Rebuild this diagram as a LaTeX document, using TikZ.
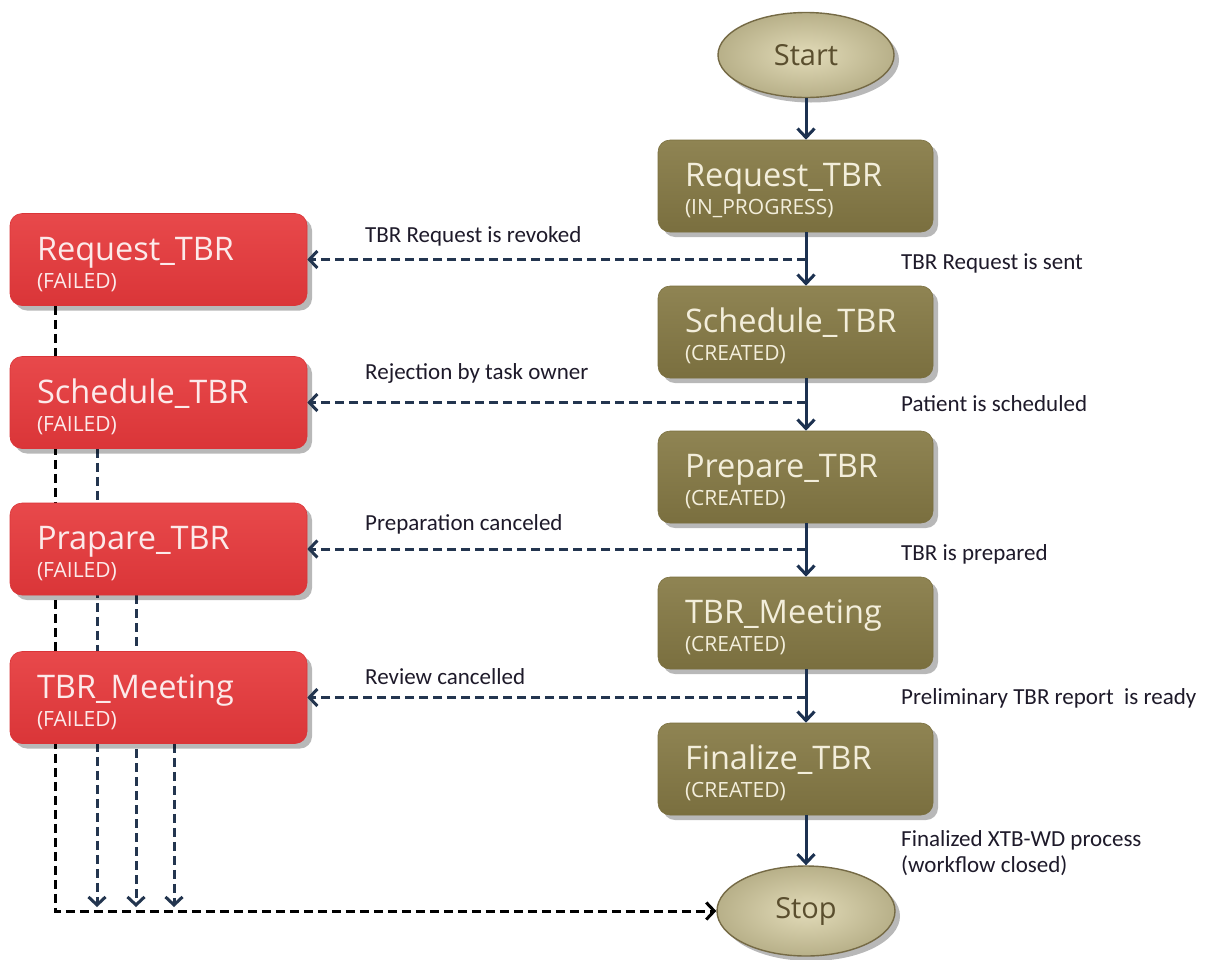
\documentclass[tikz,border=0pt]{standalone}
\usepackage{fontspec}
\setmainfont{Open Sans}
\newfontfamily\labelfont{Carlito}
\usetikzlibrary{arrows.meta,shapes.geometric,shadows,backgrounds,calc}

\definecolor{olivetop}{HTML}{8F8453}
\definecolor{olivebot}{HTML}{7A6F3F}
\definecolor{failtop}{HTML}{E8494B}
\definecolor{failbot}{HTML}{DA3538}
\definecolor{beige}{HTML}{D8CFA1}
\definecolor{beigeedge}{HTML}{756A45}
\definecolor{navy}{HTML}{1C3150}
\definecolor{dashnavy}{HTML}{23354F}
\definecolor{labelink}{HTML}{1E1A2A}
\definecolor{cream}{HTML}{F3EEDB}
\definecolor{pinkwhite}{HTML}{FCEAEA}
\definecolor{termink}{HTML}{5A4E2E}

\tikzset{
  shadowed/.style={drop shadow={shadow xshift=5pt,shadow yshift=-5pt,opacity=0.28,fill=black}},
  statebox/.style={shadowed,rectangle,rounded corners=12pt,minimum height=92pt,line width=0.6pt,
    align=left,inner xsep=0pt,inner ysep=0pt,font=\fontsize{21}{28}\selectfont},
  taskbox/.style={statebox,minimum width=275pt,text width=221pt,
    top color=olivetop,bottom color=olivebot,draw=olivebot,text=cream},
  failbox/.style={statebox,minimum width=297pt,text width=243pt,
    top color=failtop,bottom color=failbot,draw=failbot,text=pinkwhite},
  terminal/.style={shadowed,ellipse,inner color=beige!75!white,outer color=beige!85!black,
    draw=beigeedge,line width=1.4pt,text=termink,font=\fontsize{29}{34}\selectfont},
  flow/.style={navy,line width=3pt,-{Straight Barb[length=9pt,width=17pt]}},
  cancel/.style={dashnavy,line width=3pt,dash pattern=on 9pt off 5pt,-{Straight Barb[length=8pt,width=17pt]}},
  failline/.style={line width=3pt,dash pattern=on 9pt off 5pt},
  edgelabel/.style={anchor=west,inner sep=0pt,text=labelink,font=\labelfont\fontsize{23}{26}\selectfont,align=left},
}
% state name on the first line, state value below it
\newcommand{\boxtext}[2]{\mbox{\rule{0pt}{33pt}\fontsize{32.5}{38}\selectfont #1}\\#2}

\begin{document}
\begin{tikzpicture}[x=1pt,y=-1pt]
\useasboundingbox (0,0) rectangle (1218,959);

% terminals
\node[terminal,minimum width=176pt,minimum height=85pt] (start) at (806,55) {Start};
\node[terminal,minimum width=178pt,minimum height=90pt] (stop) at (806,911) {Stop};

% main path
\node[taskbox] (t1) at (795.5,186) {\boxtext{Request\_TBR}{(IN\_PROGRESS)}};
\node[taskbox] (t2) at (795.5,332) {\boxtext{Schedule\_TBR}{(CREATED)}};
\node[taskbox] (t3) at (795.5,477) {\boxtext{Prepare\_TBR}{(CREATED)}};
\node[taskbox] (t4) at (795.5,623) {\boxtext{TBR\_Meeting}{(CREATED)}};
\node[taskbox] (t5) at (795.5,769) {\boxtext{Finalize\_TBR}{(CREATED)}};

% failure states
\node[failbox] (f1) at (158.5,259.5) {\boxtext{Request\_TBR}{(FAILED)}};
\node[failbox] (f2) at (158.5,402.5) {\boxtext{Schedule\_TBR}{(FAILED)}};
\node[failbox] (f3) at (158.5,549) {\boxtext{Prapare\_TBR}{(FAILED)}};
\node[failbox] (f4) at (158.5,697.5) {\boxtext{TBR\_Meeting}{(FAILED)}};

% collecting lines from the failure states into Stop, running behind the boxes
\coordinate (bus) at (55,911);
\coordinate (b2) at (97,907);
\coordinate (b3) at (136,907);
\coordinate (b4) at (174,907);
\begin{scope}[on background layer]
  \fill[white] (0,0) rectangle (1218,959);
  \draw[failline,black,-{Straight Barb[length=8pt,width=17pt]}] (f1.south -| bus) -- (bus) -- (stop.west);
  \draw[failline,dashnavy,-{Straight Barb[length=8pt,width=17pt]}] (f2.south -| b2) -- (b2);
  \draw[failline,dashnavy,-{Straight Barb[length=8pt,width=17pt]}] (f3.south -| b3) -- (b3);
  \draw[failline,dashnavy,-{Straight Barb[length=8pt,width=17pt]}] (f4.south -| b4) -- (b4);
\end{scope}

% successful transitions
\draw[flow] (start.south) -- (start.south |- t1.north);
\draw[flow] (t1.south -| start) -- (t2.north -| start);
\draw[flow] (t2.south -| start) -- (t3.north -| start);
\draw[flow] (t3.south -| start) -- (t4.north -| start);
\draw[flow] (t4.south -| start) -- (t5.north -| start);
\draw[flow] (t5.south -| start) -- (stop.north);

% cancellations
\draw[cancel] (f1.east -| start) -- (f1.east);
\draw[cancel] (f2.east -| start) -- (f2.east);
\draw[cancel] (f3.east -| start) -- (f3.east);
\draw[cancel] (f4.east -| start) -- (f4.east);

% labels
\node[edgelabel] (l1) at (365,236) {TBR Request is revoked};
\node[edgelabel] (l2) at (365,373) {Rejection by task owner};
\node[edgelabel] (l3) at (365,524) {Preparation canceled};
\node[edgelabel] (l4) at (365,677) {Review cancelled};

\node[edgelabel] (r1) at (901,263) {TBR Request is sent};
\node[edgelabel] (r2) at (901,404) {Patient is scheduled};
\node[edgelabel] (r3) at (901,554) {TBR is prepared};
\node[edgelabel] (r4) at (901,698) {Preliminary TBR report\ \ is ready};
\node[edgelabel] (r5) at (901,853) {Finalized XTB-WD process\\(workflow closed)};
\end{tikzpicture}
\end{document}
